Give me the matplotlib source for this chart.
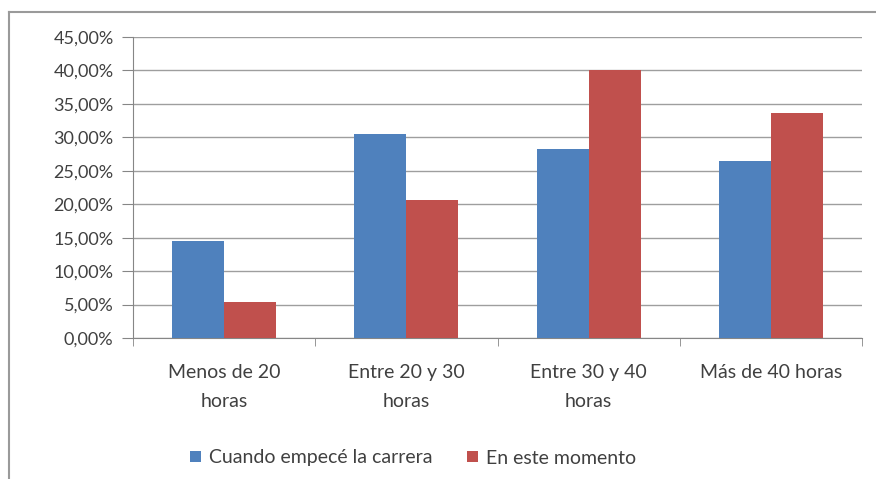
import matplotlib
matplotlib.use("Agg")
import matplotlib.pyplot as plt
import numpy as np
from matplotlib.lines import Line2D
from matplotlib.ticker import FuncFormatter, MultipleLocator

CATEGORIAS = ["Menos de 20\nhoras", "Entre 20 y 30\nhoras",
              "Entre 30 y 40\nhoras", "Más de 40 horas"]
SERIES = ["Cuando empecé la carrera", "En este momento"]
INICIO = [14.5, 30.5, 28.2, 26.5]
AHORA = [5.4, 20.7, 40.0, 33.6]

AZUL = "#4F81BD"
ROJO = "#C0504D"
GRIS = "#868686"
TEXTO = "#404040"

plt.rcParams["font.family"] = ["Lato", "DejaVu Sans"]

fig = plt.figure(figsize=(8.76, 4.79), dpi=100)
ax = fig.add_axes([133 / 876, 1 - 338 / 479, (862 - 133) / 876, (338 - 37) / 479])

x = np.arange(len(CATEGORIAS))
ancho = 0.285
ax.bar(x - ancho / 2, INICIO, ancho, color=AZUL, label=SERIES[0], zorder=3)
ax.bar(x + ancho / 2, AHORA, ancho, color=ROJO, label=SERIES[1], zorder=3)

ax.set_xlim(-0.5, len(CATEGORIAS) - 0.5)
ax.set_ylim(0, 45)
ax.yaxis.set_major_locator(MultipleLocator(5))
ax.yaxis.set_major_formatter(FuncFormatter(lambda v, _: f"{v:.2f}%".replace(".", ",")))
ax.grid(axis="y", color=GRIS, linewidth=1.0, alpha=0.8, zorder=0)

for lado in ("top", "right"):
    ax.spines[lado].set_visible(False)
for lado in ("left", "bottom"):
    ax.spines[lado].set_color(GRIS)

ax.set_xticks(x)
ax.set_xticklabels(CATEGORIAS, color=TEXTO, fontsize=14, linespacing=1.85)
ax.tick_params(axis="x", length=0, pad=19)
ax.set_xticks(np.arange(len(CATEGORIAS) + 1) - 0.5, minor=True)
ax.tick_params(axis="x", which="minor", length=6, color=GRIS)
ax.tick_params(axis="y", length=8, color=GRIS, labelcolor=TEXTO, labelsize=13, pad=6)

ax.legend(loc="center", bbox_to_anchor=(413 / 876, 1 - 458 / 479),
          bbox_transform=fig.transFigure, ncol=2, frameon=False,
          fontsize=14, handlelength=0.55, handleheight=0.55,
          handletextpad=0.4, columnspacing=1.8, labelcolor=TEXTO)

# marco del gráfico (solo se ven los bordes superior e izquierdo)
fig.add_artist(Line2D([8.5 / 876, 8.5 / 876], [0, 1 - 12 / 479], color="#9a9a9a", linewidth=1.5))
fig.add_artist(Line2D([8.5 / 876, 1], [1 - 12 / 479, 1 - 12 / 479], color="#9a9a9a", linewidth=1.5))

fig.savefig("out.png", dpi=100, facecolor="white")
